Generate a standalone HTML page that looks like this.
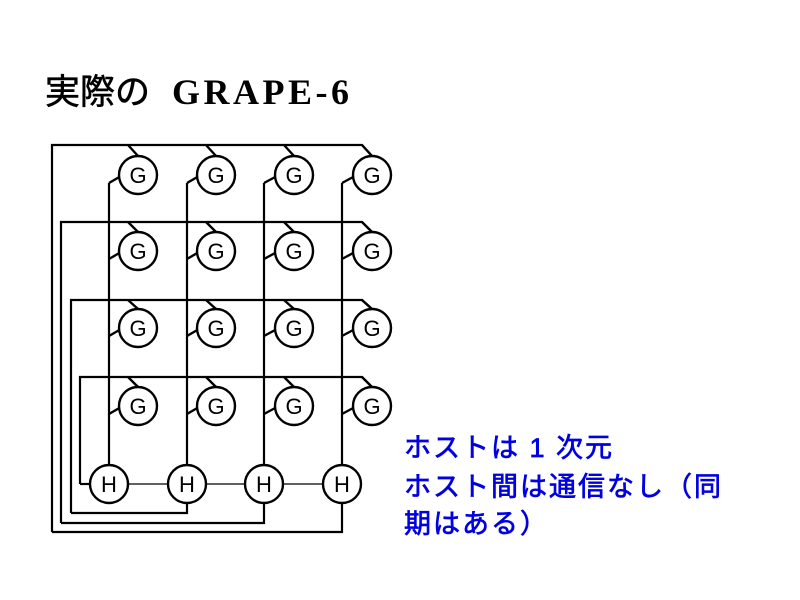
<!DOCTYPE html>
<html><head><meta charset="utf-8"><style>
html,body{margin:0;padding:0;background:#fff;width:800px;height:600px;overflow:hidden}
</style></head><body>
<svg width="800" height="600" viewBox="0 0 800 600" xmlns="http://www.w3.org/2000/svg">
<text x="45" y="104" font-family="'Liberation Sans','Noto Sans CJK JP',sans-serif" font-size="35" fill="#000" stroke="#000" stroke-width="0.6">実際の</text>
<text x="172" y="104" font-family="'Liberation Serif',serif" font-weight="bold" font-size="36" letter-spacing="3.5" fill="#000">GRAPE-6</text>
<g stroke="#000" stroke-width="2.2" fill="none">
<polyline points="52,532 52,145 362,145 372,156"/>
<polyline points="61,523 61,222 362,222 372,232"/>
<polyline points="71,513 71,300 362,300 372,309"/>
<polyline points="80,484 80,377 362,377 372,387"/>
<polyline points="52,532 342,532 342,503"/>
<polyline points="61,523 264,523 264,503"/>
<polyline points="71,513 187,513 187,503"/>
<line x1="80" y1="484" x2="90" y2="484"/>
<line x1="109" y1="183" x2="109" y2="465"/>
<line x1="187" y1="183" x2="187" y2="465"/>
<line x1="264" y1="183" x2="264" y2="465"/>
<line x1="342" y1="183" x2="342" y2="465"/>
</g>
<g stroke="#000" stroke-width="1.3">
<line x1="128" y1="484" x2="168" y2="484"/>
<line x1="206" y1="484" x2="245" y2="484"/>
<line x1="283" y1="484" x2="323" y2="484"/>
</g>
<g id="cells" stroke="#000" stroke-width="2.4" fill="#fff" font-family="'Liberation Sans',sans-serif" font-size="22">
</g>
<script>
var ns="http://www.w3.org/2000/svg",g=document.getElementById('cells');
var xs=[138,216,294,372],ys=[175,251,328,406],lx=[109,187,264,342],by=[145,222,300,377];
function el(t,a,p){var e=document.createElementNS(ns,t);for(var k in a)e.setAttribute(k,a[k]);p.appendChild(e);return e;}
for(var r=0;r<4;r++)for(var c=0;c<4;c++){
 var x=xs[c],y=ys[r];
 el('line',{x1:x-10,y1:by[r],x2:x,y2:y-19},g);
 el('line',{x1:lx[c],y1:y+8,x2:x-17,y2:y+1},g);
 el('circle',{cx:x,cy:y,r:19},g);
 var t=el('text',{x:x,y:y+8,'text-anchor':'middle',fill:'#000',stroke:'none'},g);t.textContent='G';
}
for(var c=0;c<4;c++){var x=lx[c];el('circle',{cx:x,cy:484,r:19},g);
 var t=el('text',{x:x,y:492,'text-anchor':'middle',fill:'#000',stroke:'none'},g);t.textContent='H';}
</script>
<g font-family="'Liberation Sans','Noto Sans CJK JP',sans-serif" font-size="27" fill="#0000e0" stroke="#0000e0" stroke-width="0.7" letter-spacing="2">
<text x="404" y="457">ホストは 1 次元</text>
<text x="404" y="496">ホスト間は通信なし（同</text>
<text x="404" y="533">期はある）</text>
</g>
</svg>
</body></html>
